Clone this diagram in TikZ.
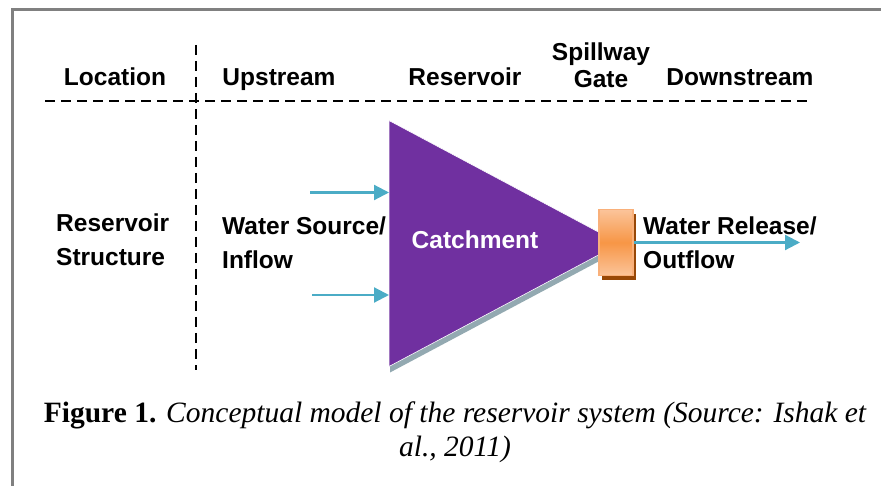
\documentclass[tikz,border=0pt]{standalone}
\usepackage{fontspec}
\setmainfont{Liberation Serif}
\setsansfont{Liberation Sans}
\usepackage{tikz}
\usetikzlibrary{arrows.meta,positioning,shadows}
\definecolor{catchc}{HTML}{7030A0}
\definecolor{shadec}{HTML}{93A9B1}
\definecolor{flowc}{HTML}{4BACC6}
\definecolor{gateor}{HTML}{F79646}
\definecolor{gatelt}{HTML}{FBC49A}
\definecolor{gaterim}{HTML}{F9B07A}
\definecolor{gatesh}{HTML}{984807}
\definecolor{framec}{HTML}{808080}

\begin{document}
\begin{tikzpicture}[x=1pt,y=-1pt,every node/.style={font=\sffamily\bfseries\fontsize{24.5}{33.3}\selectfont,inner sep=0pt},lbl/.style={align=center},head/.style={anchor=base},lbll/.style={align=left,anchor=west},dashline/.style={dash pattern=on 10pt off 6pt,line width=2pt},flow/.style={-{Triangle[length=15pt,width=15pt]},line width=2.2pt,flowc},gatebox/.style={draw=gaterim,line width=1.2pt,top color=gatelt,bottom color=gatelt,middle color=gateor,minimum width=34pt,minimum height=66pt,drop shadow={shadow xshift=3pt,shadow yshift=-5pt,fill=gatesh,opacity=1}}]
\useasboundingbox (0,0) rectangle (881,486);
\draw[framec,line width=3pt] (12,486) -- (12,10) -- (881,10);
% table heads
\node[head] (loc) at (115,86) {Location};
\node[head] (up) at (279,86) {Upstream};
\node[head] (res) at (465,86) {Reservoir};
\node[lbl,font=\sffamily\bfseries\fontsize{24.5}{27}\selectfont] (spill) at (601,65) {Spillway\\Gate};
\node[head] (down) at (740,86) {Downstream};
\node[lbll] (struct) at (56,239.6) {Reservoir\\Structure};
\draw[dashline] (196,45) -- (196,370);
\draw[dashline] (45,101) -- (810,101);
% catchment
\coordinate (ttop) at (389,120.5);
\coordinate (tbot) at (389,366.5);
\coordinate (ttip) at (620,243.5);
\fill[shadec] ([shift={(1,6)}]ttop) -- ([shift={(1,6)}]tbot) -- ([shift={(1,6)}]ttip) -- cycle;
\fill[catchc,draw=white,line width=0.6pt] (ttop) -- (tbot) -- (ttip) -- cycle;
\node[lbl,white] (catch) at (475,240) {Catchment};
\node[gatebox] (gate) at (616,242.5) {};
% flows
\node[lbll] (inflow) at (222,242.8) {Water Source/\\Inflow};
\coordinate (in1) at (310,192.5);
\coordinate (in2) at (312,295);
\draw[flow] (in1) -- (in1 -| ttop);
\draw[flow] (in2) -- (in2 -| ttop);
\coordinate (out) at (800,242.5);
\draw[flow] (gate.center -| gate.east) -- (out);
\node[lbll] (outflow) at (643,242.8) {Water Release/\\Outflow};
% caption
\node[lbl,font=\rmfamily\mdseries\fontsize{29.5}{34}\selectfont] (cap) at (455,432.5) {{\bfseries Figure 1.} \itshape Conceptual model of the reservoir system (Source: Ishak et\\\itshape al., 2011)};
\end{tikzpicture}
\end{document}
